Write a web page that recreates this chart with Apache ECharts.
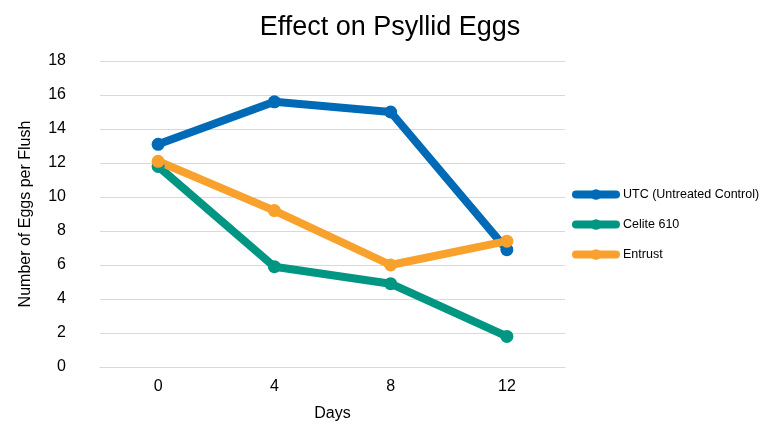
<!DOCTYPE html>
<html>
<head>
<meta charset="utf-8" />
<title>Effect on Psyllid Eggs</title>
<script src="https://cdn.jsdelivr.net/npm/echarts@6/dist/echarts.min.js"></script>
<style>
  html, body { margin: 0; padding: 0; background: #fff; }
  #main { width: 763px; height: 427px; }
</style>
</head>
<body>
<div id="main"></div>
<script type="text/javascript">
    var days = ['0', '4', '8', '12'];
    var utc = [13.1, 15.6, 15.0, 6.9];
    var celite = [11.8, 5.9, 4.9, 1.8];
    var entrust = [12.1, 9.2, 6.0, 7.4];

    var names = ['UTC (Untreated Control)', 'Celite 610', 'Entrust'];
    var colors = ['#006AB6', '#009681', '#F8A22D'];
    var values = [utc, celite, entrust];

    var series = [];
    for (var i = 0; i < names.length; i++) {
        series.push({
            name: names[i],
            type: 'line',
            data: values[i],
            symbol: 'circle',
            symbolSize: 13,
            lineStyle: { width: 8, color: colors[i], cap: 'round' },
            itemStyle: { color: colors[i] }
        });
    }

    var myChart = echarts.init(document.getElementById('main'));
    var option = {
        animation: false,
        title: {
            text: 'Effect on Psyllid Eggs',
            left: 385,
            textAlign: 'center',
            top: 9,
            textStyle: { fontFamily: 'Liberation Sans', fontSize: 27, fontWeight: 'normal', color: '#000' }
        },
        legend: {
            orient: 'vertical',
            left: 567,
            top: 183,
            itemWidth: 40,
            itemHeight: 13,
            itemGap: 17,
            data: names,
            lineStyle: { width: 8, cap: 'round' },
            textStyle: { fontFamily: 'Liberation Sans', fontSize: 12.5, color: '#000', padding: [0, 0, 0, 2] }
        },
        grid: { left: 100, right: 198, top: 61, bottom: 60 },
        xAxis: {
            type: 'category',
            data: days,
            name: 'Days',
            nameLocation: 'middle',
            nameGap: 39,
            nameTextStyle: { fontFamily: 'Liberation Sans', fontSize: 16, color: '#000' },
            axisLine: { lineStyle: { color: '#d9d9d9', width: 1 } },
            axisTick: { show: false },
            axisLabel: { fontFamily: 'Liberation Sans', fontSize: 16, color: '#000', margin: 12 }
        },
        yAxis: {
            type: 'value',
            min: 0,
            max: 18,
            interval: 2,
            name: 'Number of Eggs per Flush',
            nameLocation: 'middle',
            nameGap: 66,
            nameTextStyle: { fontFamily: 'Liberation Sans', fontSize: 16, color: '#000' },
            axisLine: { show: false },
            axisTick: { show: false },
            splitLine: { lineStyle: { color: '#d9d9d9', width: 1 } },
            axisLabel: { fontFamily: 'Liberation Sans', fontSize: 16, color: '#000', margin: 34 }
        },
        series: series
    };
    myChart.setOption(option);
</script>
</body>
</html>
